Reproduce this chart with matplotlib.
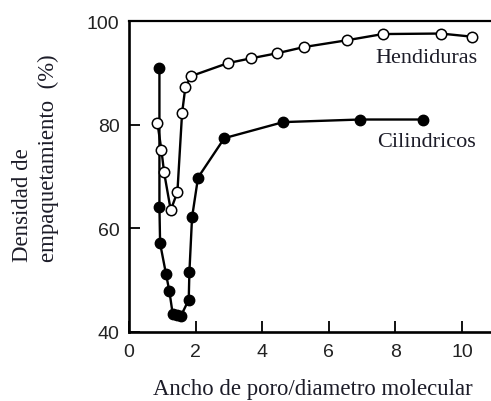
import matplotlib
matplotlib.use("Agg")
import matplotlib.pyplot as plt

# Packing density vs. pore width / molecular diameter
x_cil = [0.91, 0.91, 0.93, 1.11, 1.21, 1.31, 1.43, 1.55, 1.79, 1.81, 1.89, 2.07, 2.86, 4.63, 6.94, 8.84]
y_cil = [91.0, 64.2, 57.1, 51.1, 47.8, 43.4, 43.2, 43.0, 46.2, 51.5, 62.1, 69.8, 77.4, 80.5, 81.0, 81.0]

x_hen = [0.85, 0.97, 1.05, 1.25, 1.45, 1.59, 1.69, 1.87, 2.97, 3.65, 4.45, 5.26, 6.54, 7.62, 9.36, 10.29]
y_hen = [80.3, 75.1, 70.8, 63.5, 67.0, 82.2, 87.3, 89.4, 91.9, 92.8, 93.8, 95.0, 96.3, 97.5, 97.6, 97.0]

x_ticks = [0, 2, 4, 6, 8, 10]
y_ticks = [40, 60, 80, 100]

serif = "Liberation Serif"
sans = "Liberation Sans"
txt = "#1c1c28"

fig = plt.figure(figsize=(4.91, 4.02), dpi=100)
ax = fig.add_axes([0.263, 0.172, 0.737, 0.773])

ax.plot(x_cil, y_cil, "-o", color="black", lw=1.7, ms=7.5,
        mfc="black", mec="black", zorder=3)
ax.plot(x_hen, y_hen, "-o", color="black", lw=1.7, ms=7.5,
        mfc="white", mec="black", mew=1.1, zorder=4)

ax.set_xlim(0, 10.87)
ax.set_ylim(40, 100)
ax.set_xticks(x_ticks)
ax.set_yticks(y_ticks)
ax.tick_params(direction="in", length=8, width=1.3, colors="black",
               labelcolor="#222222", labelsize=14)
ax.tick_params(axis="x", pad=8)
ax.tick_params(axis="y", pad=7)
for lab in ax.get_xticklabels() + ax.get_yticklabels():
    lab.set_fontfamily(sans)

ax.spines["right"].set_visible(False)
for s in ["left", "bottom"]:
    ax.spines[s].set_linewidth(1.9)
ax.spines["top"].set_linewidth(1.6)

ax.text(10.45, 93.0, "Hendiduras", family=serif, fontsize=16,
        color=txt, ha="right", va="center")
ax.text(10.42, 76.7, "Cilindricos", family=serif, fontsize=16,
        color=txt, ha="right", va="center")

fig.text(0.6375, 0.03, "Ancho de poro/diametro molecular", family=serif,
         fontsize=16.4, color=txt, ha="center", va="center")
fig.text(0.057, 0.348, "Densidad de", family=serif, fontsize=16.4,
         color=txt, rotation=90, rotation_mode="anchor",
         ha="left", va="baseline")
fig.text(0.110, 0.348, "empaquetamiento  (%)", family=serif, fontsize=16.4,
         color=txt, rotation=90, rotation_mode="anchor",
         ha="left", va="baseline")

fig.savefig("out.png", dpi=100)
